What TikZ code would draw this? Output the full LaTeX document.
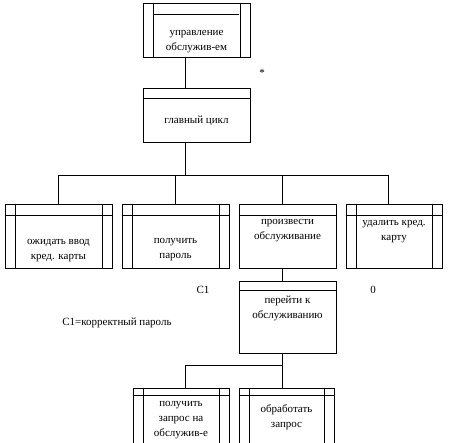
\documentclass[tikz,border=0pt]{standalone}
\usepackage{fontspec}
\setmainfont{Liberation Serif}
\usetikzlibrary{positioning}

\begin{document}
\begin{tikzpicture}[
  x=1pt,
  y=-1pt,
  line width=0.6pt,
  every node/.style={font=\fontsize{11}{15}\selectfont},
  blk/.style={draw, inner sep=0pt, minimum width=107pt, minimum height=54pt},
  row/.style={blk, minimum height=64pt},
  txt/.style={align=center, inner sep=0pt},
  wire/.style={line width=0.6pt}
]
\useasboundingbox (0,0) rectangle (463,443);

% boxes
\node[blk] (top) at (196.5,30) {};
\node[blk] (main) at (196.5,115) {};
\node[row] (wait) at (58.5,236) {};
\node[row] (pin) at (175.5,236) {};
\node[row, minimum width=97pt] (serve) at (287.5,236) {};
\node[row, minimum width=96pt] (eject) at (394,236) {};
\node[blk, minimum width=97pt, minimum height=72pt] (go) at (287.5,317) {};
\node[blk, minimum width=96pt, minimum height=55pt] (req) at (181,415.5) {};
\node[blk, minimum width=95pt, minimum height=55pt] (proc) at (286.5,415.5) {};

% header lines and side bars
\foreach \n/\h in {main/11, wait/12, pin/12, serve/12, eject/12, go/10, req/8, proc/8}
  \draw ([yshift=-\h pt]\n.north west) -- ([yshift=-\h pt]\n.north east);
\draw ([shift={(11pt,-12pt)}]top.north west) -- ([shift={(-11pt,-12pt)}]top.north east);
\foreach \n in {top, wait, pin, eject, req, proc}
  \draw ([xshift=11pt]\n.north west) -- ([xshift=11pt]\n.south west)
        ([xshift=-10pt]\n.north east) -- ([xshift=-10pt]\n.south east);

% texts
\node[txt] (topT) at (196.5,42) {управление\\обслужив-ем};
\node[txt] (mainT) at (196.5,121) {главный цикл};
\node[txt] (waitT) at (58.5,251) {ожидать ввод\\кред. карты};
\node[txt] (pinT) at (175.5,250) {получить\\пароль};
\node[txt] (serveT) at (287.5,231) {произвести\\обслуживание};
\node[txt] (ejectT) at (394,232) {удалить кред.\\карту};
\node[txt] (goT) at (287.5,308) {перейти к\\обслуживанию};
\node[txt] (reqT) at (181,420) {получить\\запрос на\\обслужив-е};
\node[txt] (procT) at (286.5,417) {обработать\\запрос};

% labels
\node[txt] (star) at (262,73) {*};
\node[txt] (cond) at (203,290) {C1};
\node[txt] (zero) at (373,290) {0};
\node[txt, anchor=west] (legend) at (62,323) {C1=корректный пароль};

% connectors
\coordinate (trunk) at (185,0);
\coordinate (colR) at (282,0);
\coordinate (colE) at (388,0);
\coordinate (bus) at (0,175);
\coordinate (bus2) at (0,365);
\draw[wire] (top.south -| trunk) -- (main.north -| trunk);
\draw[wire] (main.south -| trunk) -- (bus -| trunk);
\draw[wire] (wait.north) -- (wait.north |- bus) -- (bus -| colE) -- (eject.north -| colE);
\draw[wire] (pin.north) -- (pin.north |- bus);
\draw[wire] (bus -| colR) -- (serve.north -| colR);
\draw[wire] (serve.south -| colR) -- (go.north -| colR);
\draw[wire] (go.south -| colR) -- (proc.north -| colR);
\draw[wire] (bus2 -| colR) -- (bus2 -| trunk) -- (req.north -| trunk);
\end{tikzpicture}
\end{document}
